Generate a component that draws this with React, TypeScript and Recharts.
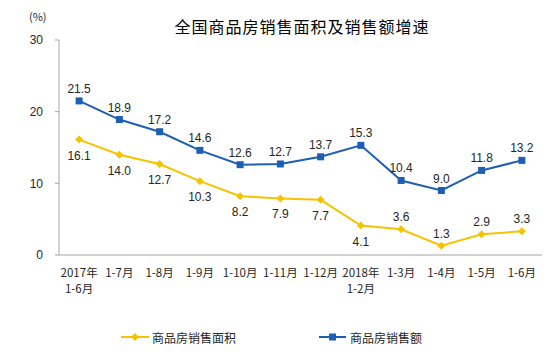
import { LineChart, Line, XAxis, YAxis, LabelList } from 'recharts'

// 数据（单位：%）
const categories = ['2017年\n1-6月', '1-7月', '1-8月', '1-9月', '1-10月', '1-11月', '1-12月', '2018年\n1-2月', '1-3月', '1-4月', '1-5月', '1-6月']
const areaGrowth = [16.1, 14.0, 12.7, 10.3, 8.2, 7.9, 7.7, 4.1, 3.6, 1.3, 2.9, 3.3]
const salesGrowth = [21.5, 18.9, 17.2, 14.6, 12.6, 12.7, 13.7, 15.3, 10.4, 9.0, 11.8, 13.2]
// 面积标签在点下方的位置（其余在上方）
const areaLabelBelow = [true, true, true, true, true, true, true, true, false, false, false, false]
const yTicks = [0, 10, 20, 30]

const data = categories.map((name, i) => ({ name, area: areaGrowth[i], sales: salesGrowth[i] }))

const BLUE = '#1C5FB5'
const GOLD = '#F5C400'
const AXIS = '#a6a6a6'
const TEXT = '#262626'
const CJK = '"Noto Sans CJK SC", "Noto Sans", sans-serif'
const NUM = '"Liberation Sans", Arial, sans-serif'

const boundaryTicks = Array.from({ length: categories.length - 1 }, (_, i) => i + 1)

function CatTick({ x, y, payload }: any) {
  const lines = String(payload.value).split('\n')
  return (
    <text x={x} y={y} textAnchor="middle" fill={TEXT} fontSize={11.5} fontFamily={CJK}>
      {lines.map((l, i) => (
        <tspan key={i} x={x} dy={i === 0 ? 14 : 16}>{l}</tspan>
      ))}
    </text>
  )
}

function SquareDot({ cx, cy }: any) {
  if (cx == null || cy == null) return null
  return <rect x={cx - 3.5} y={cy - 3.5} width={7} height={7} fill={BLUE} />
}

function DiamondDot({ cx, cy }: any) {
  if (cx == null || cy == null) return null
  const r = 4
  return <polygon points={`${cx},${cy - r} ${cx + r},${cy} ${cx},${cy + r} ${cx - r},${cy}`} fill={GOLD} />
}

function SalesLabel({ x, y, value }: any) {
  return (
    <text x={x} y={y - 8} textAnchor="middle" fill={TEXT} fontSize={12} fontFamily={NUM}>
      {Number(value).toFixed(1)}
    </text>
  )
}

function AreaLabel({ x, y, value, index }: any) {
  const below = areaLabelBelow[index]
  return (
    <text x={x} y={below ? y + 20 : y - 8} textAnchor="middle" fill={TEXT} fontSize={12} fontFamily={NUM}>
      {Number(value).toFixed(1)}
    </text>
  )
}

export default function App() {
  return (
    <div style={{ position: 'absolute', left: 0, top: 0, width: 555, height: 358, background: '#fff' }}>
      <LineChart width={555} height={358} data={data} margin={{ top: 40, right: 13, bottom: 63, left: 0 }}>
        <XAxis xAxisId="grid" type="number" domain={[0, categories.length]} allowDataOverflow ticks={boundaryTicks}
          tick={false} tickSize={-4} tickLine={{ stroke: AXIS }} axisLine={false} height={0} />
        <XAxis dataKey="name" scale="band" interval={0} height={40} tickLine={false}
          axisLine={{ stroke: AXIS }} tick={<CatTick />} />
        <XAxis xAxisId="top" orientation="top" dataKey="name" tick={false} tickLine={false} height={0}
          axisLine={{ stroke: AXIS }} />
        <YAxis domain={[0, 30]} ticks={yTicks} width={59} tickSize={4} tickMargin={12}
          axisLine={{ stroke: AXIS }} tickLine={{ stroke: AXIS }}
          tick={{ fill: TEXT, fontSize: 12, fontFamily: NUM }} />
        <YAxis yAxisId="right" orientation="right" domain={[0, 30]} allowDataOverflow tick={false} tickLine={false}
          width={0} axisLine={{ stroke: AXIS }} />
        <Line dataKey="sales" stroke={BLUE} strokeWidth={2} dot={<SquareDot />} isAnimationActive={false}>
          <LabelList dataKey="sales" content={<SalesLabel />} />
        </Line>
        <Line dataKey="area" stroke={GOLD} strokeWidth={2} dot={<DiamondDot />} isAnimationActive={false}>
          <LabelList dataKey="area" content={<AreaLabel />} />
        </Line>
      </LineChart>

      <div style={{ position: 'absolute', left: 0, top: 15, width: 604, textAlign: 'center', fontFamily: CJK, fontSize: 16, letterSpacing: 1, color: '#000', lineHeight: '22px' }}>
        全国商品房销售面积及销售额增速
      </div>
      <div style={{ position: 'absolute', left: 29, top: 8, fontFamily: CJK, fontSize: 11, color: TEXT }}>(%)</div>

      <div style={{ position: 'absolute', left: 121, top: 328, display: 'flex', alignItems: 'center', fontFamily: CJK, fontSize: 12, color: TEXT }}>
        <svg width={28} height={18}>
          <line x1={0} y1={9} x2={28} y2={9} stroke={GOLD} strokeWidth={2} />
          <polygon points="14,5 18,9 14,13 10,9" fill={GOLD} />
        </svg>
        <span style={{ marginLeft: 3 }}>商品房销售面积</span>
      </div>
      <div style={{ position: 'absolute', left: 319, top: 328, display: 'flex', alignItems: 'center', fontFamily: CJK, fontSize: 12, color: TEXT }}>
        <svg width={27} height={18}>
          <line x1={0} y1={9} x2={27} y2={9} stroke={BLUE} strokeWidth={2} />
          <rect x={10} y={5.5} width={7} height={7} fill={BLUE} />
        </svg>
        <span style={{ marginLeft: 4 }}>商品房销售额</span>
      </div>
    </div>
  )
}
